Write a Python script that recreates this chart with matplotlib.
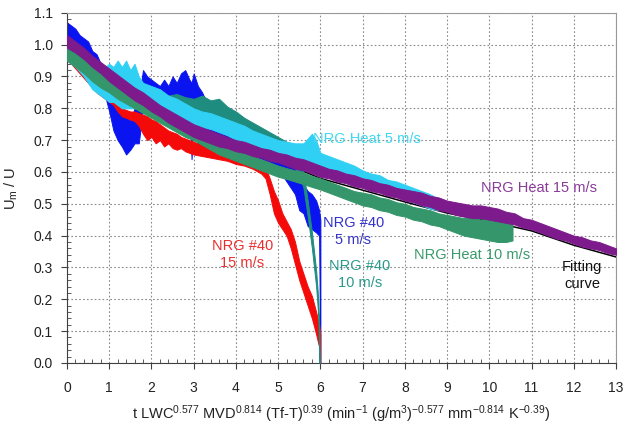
import numpy as np
import matplotlib
matplotlib.use("Agg")
import matplotlib.pyplot as plt
from matplotlib.ticker import MultipleLocator, FormatStrFormatter

plt.rcParams['font.family'] = ['Liberation Sans', 'DejaVu Sans']
plt.rcParams['mathtext.fontset'] = 'custom'
plt.rcParams['mathtext.rm'] = 'Liberation Sans'
plt.rcParams['mathtext.it'] = 'Liberation Sans:italic'

# NRG #40 5 m/s (blue) - band: x, lower edge, upper edge
blue_x = [0.0, 0.1, 0.2, 0.3, 0.4, 0.5, 0.6, 0.7, 0.8, 0.9, 1.0, 1.1, 1.2, 1.3, 1.4, 1.5,
          1.6, 1.7, 1.8, 1.9, 2.0, 2.1, 2.2, 2.3, 2.4, 2.5, 2.6, 2.7, 2.8, 2.9, 2.95, 3.0,
          3.1, 3.2, 3.3, 3.4, 3.5, 3.6, 3.8, 4.0, 4.2, 4.4, 4.6, 4.8, 5.0, 5.2, 5.4, 5.5,
          5.6, 5.7, 5.8, 5.9, 5.97, 6.0]
blue_lo = [0.99, 0.98, 0.97, 0.96, 0.95, 0.95, 0.92, 0.91, 0.87, 0.84, 0.79, 0.73, 0.70, 0.68, 0.655, 0.67,
           0.69, 0.69, 0.80, 0.83, 0.83, 0.82, 0.83, 0.82, 0.83, 0.82, 0.83, 0.82, 0.81, 0.82, 0.64, 0.80,
           0.67, 0.68, 0.71, 0.69, 0.68, 0.675, 0.665, 0.655, 0.65, 0.645, 0.64, 0.63, 0.61, 0.57, 0.53, 0.48,
           0.47, 0.43, 0.42, 0.41, 0.40, 0.0]
blue_hi = [1.07, 1.06, 1.05, 1.03, 1.02, 1.01, 0.98, 0.97, 0.94, 0.92, 0.88, 0.84, 0.80, 0.79, 0.78, 0.76,
           0.80, 0.83, 0.92, 0.90, 0.89, 0.88, 0.87, 0.89, 0.87, 0.90, 0.88, 0.91, 0.92, 0.89, 0.88, 0.91,
           0.87, 0.85, 0.82, 0.79, 0.76, 0.74, 0.72, 0.70, 0.69, 0.685, 0.675, 0.67, 0.66, 0.64, 0.61, 0.58,
           0.56, 0.54, 0.53, 0.51, 0.48, 0.45]

# NRG #40 15 m/s (red)
red_x = [0.0, 0.1, 0.2, 0.3, 0.4, 0.5, 0.6, 0.7, 0.8, 0.9, 1.0, 1.1, 1.2, 1.3, 1.4, 1.5,
         1.6, 1.7, 1.8, 1.9, 2.0, 2.1, 2.2, 2.3, 2.4, 2.5, 2.6, 2.7, 2.8, 2.9, 3.0, 3.2,
         3.4, 3.6, 3.8, 4.0, 4.2, 4.4, 4.6, 4.7, 4.8, 4.9, 5.0, 5.1, 5.2, 5.3, 5.4, 5.5,
         5.6, 5.7, 5.8, 5.9, 5.97, 6.0]
red_lo = [0.95, 0.94, 0.925, 0.91, 0.895, 0.88, 0.865, 0.85, 0.84, 0.83, 0.82, 0.81, 0.79, 0.775, 0.77, 0.765,
          0.76, 0.745, 0.72, 0.70, 0.71, 0.69, 0.70, 0.68, 0.69, 0.675, 0.67, 0.675, 0.665, 0.66, 0.655, 0.65,
          0.645, 0.64, 0.635, 0.625, 0.62, 0.61, 0.595, 0.58, 0.53, 0.47, 0.44, 0.42, 0.40, 0.36, 0.31, 0.26,
          0.22, 0.18, 0.14, 0.09, 0.05, 0.0]
red_hi = [0.98, 0.965, 0.955, 0.94, 0.93, 0.915, 0.90, 0.89, 0.88, 0.87, 0.86, 0.85, 0.83, 0.80, 0.795, 0.79,
          0.79, 0.785, 0.78, 0.775, 0.765, 0.76, 0.75, 0.74, 0.73, 0.725, 0.72, 0.71, 0.705, 0.70, 0.695, 0.685,
          0.675, 0.67, 0.665, 0.655, 0.645, 0.64, 0.63, 0.615, 0.58, 0.54, 0.51, 0.47, 0.445, 0.42, 0.38, 0.32,
          0.28, 0.24, 0.21, 0.16, 0.12, 0.09]

# NRG #40 10 m/s (teal)
teal_x = [0.0, 0.2, 0.4, 0.6, 0.8, 1.0, 1.2, 1.4, 1.6, 1.8, 2.0, 2.2, 2.4, 2.6, 2.8, 3.0,
          3.2, 3.4, 3.6, 3.8, 4.0, 4.2, 4.4, 4.6, 4.8, 5.0, 5.2, 5.4, 5.5, 5.6, 5.7, 5.8,
          5.9, 5.95, 5.98]
teal_lo = [0.96, 0.94, 0.92, 0.90, 0.88, 0.86, 0.845, 0.83, 0.82, 0.81, 0.80, 0.80, 0.795, 0.79, 0.785, 0.78,
           0.775, 0.77, 0.755, 0.745, 0.735, 0.725, 0.71, 0.70, 0.685, 0.675, 0.655, 0.62, 0.59, 0.55, 0.46, 0.36,
           0.24, 0.15, 0.0]
teal_hi = [1.00, 0.98, 0.96, 0.94, 0.92, 0.90, 0.885, 0.87, 0.86, 0.85, 0.84, 0.845, 0.84, 0.845, 0.835, 0.83,
           0.84, 0.825, 0.83, 0.805, 0.79, 0.77, 0.755, 0.74, 0.725, 0.71, 0.695, 0.67, 0.64, 0.60, 0.51, 0.41,
           0.29, 0.20, 0.08]

# NRG Heat 5 m/s (cyan)
cyan_x = [0.0, 0.2, 0.4, 0.6, 0.8, 0.9, 1.0, 1.1, 1.2, 1.3, 1.4, 1.5, 1.6, 1.7, 1.8, 2.0,
          2.2, 2.4, 2.6, 2.8, 3.0, 3.2, 3.4, 3.6, 3.8, 4.0, 4.2, 4.4, 4.6, 4.8, 5.0, 5.2,
          5.4, 5.6, 5.8, 5.9, 6.0, 6.2, 6.4, 6.6, 6.8, 7.0, 7.2, 7.4, 7.6, 7.8, 8.0, 8.2,
          8.4, 8.6, 8.8]
cyan_lo = [0.95, 0.93, 0.90, 0.86, 0.84, 0.83, 0.82, 0.82, 0.81, 0.80, 0.80, 0.80, 0.80, 0.80, 0.80, 0.80,
           0.785, 0.775, 0.765, 0.755, 0.745, 0.74, 0.735, 0.725, 0.715, 0.70, 0.695, 0.685, 0.675, 0.67, 0.66, 0.655,
           0.645, 0.64, 0.63, 0.625, 0.61, 0.60, 0.59, 0.58, 0.57, 0.56, 0.55, 0.545, 0.535, 0.525, 0.515, 0.505,
           0.495, 0.485, 0.48]
cyan_hi = [0.99, 0.965, 0.94, 0.91, 0.90, 0.93, 0.94, 0.93, 0.95, 0.93, 0.95, 0.92, 0.94, 0.90, 0.88, 0.87,
           0.86, 0.84, 0.83, 0.815, 0.80, 0.79, 0.785, 0.775, 0.765, 0.755, 0.745, 0.73, 0.72, 0.71, 0.70, 0.695,
           0.69, 0.69, 0.72, 0.70, 0.66, 0.65, 0.64, 0.63, 0.62, 0.605, 0.595, 0.59, 0.575, 0.57, 0.56, 0.55,
           0.54, 0.53, 0.515]

# NRG Heat 10 m/s (green)
green_x = [0.0, 0.2, 0.4, 0.6, 0.8, 1.0, 1.2, 1.4, 1.6, 1.8, 2.0, 2.2, 2.4, 2.6, 2.8, 3.0,
           3.2, 3.4, 3.6, 3.8, 4.0, 4.2, 4.4, 4.6, 4.8, 5.0, 5.2, 5.4, 5.6, 5.8, 6.0, 6.2,
           6.4, 6.6, 6.8, 7.0, 7.2, 7.4, 7.6, 7.8, 8.0, 8.2, 8.4, 8.6, 8.8, 9.0, 9.2, 9.4,
           9.6, 9.8, 10.0, 10.2, 10.4, 10.55]
green_lo = [0.95, 0.93, 0.91, 0.885, 0.865, 0.85, 0.83, 0.815, 0.80, 0.785, 0.77, 0.755, 0.74, 0.725, 0.71, 0.70,
            0.685, 0.67, 0.655, 0.645, 0.635, 0.625, 0.615, 0.605, 0.595, 0.585, 0.578, 0.57, 0.562, 0.553, 0.545, 0.535,
            0.525, 0.515, 0.505, 0.495, 0.49, 0.48, 0.475, 0.465, 0.46, 0.45, 0.445, 0.435, 0.43, 0.42, 0.41, 0.40,
            0.395, 0.39, 0.385, 0.38, 0.38, 0.385]
green_hi = [0.99, 0.97, 0.95, 0.93, 0.91, 0.89, 0.87, 0.855, 0.84, 0.825, 0.81, 0.795, 0.78, 0.765, 0.75, 0.735,
            0.72, 0.705, 0.69, 0.68, 0.67, 0.66, 0.65, 0.64, 0.63, 0.62, 0.612, 0.605, 0.598, 0.588, 0.58, 0.57,
            0.56, 0.55, 0.54, 0.535, 0.53, 0.52, 0.515, 0.505, 0.50, 0.49, 0.485, 0.48, 0.47, 0.465, 0.46, 0.455,
            0.46, 0.45, 0.455, 0.45, 0.445, 0.44]

# NRG Heat 15 m/s (purple)
purple_x = [0.0, 0.2, 0.4, 0.6, 0.8, 1.0, 1.2, 1.4, 1.6, 1.8, 2.0, 2.2, 2.4, 2.6, 2.8, 3.0,
            3.2, 3.4, 3.6, 3.8, 4.0, 4.2, 4.4, 4.6, 4.8, 5.0, 5.2, 5.4, 5.6, 5.8, 6.0, 6.2,
            6.4, 6.6, 6.8, 7.0, 7.2, 7.4, 7.6, 7.8, 8.0, 8.2, 8.4, 8.6, 8.8, 9.0, 9.2, 9.4,
            9.6, 9.8, 10.0, 10.2, 10.4, 10.6, 10.8, 11.0, 11.2, 11.4, 11.6, 11.8, 12.0, 12.2, 12.4, 12.6,
            12.8, 13.0]
purple_lo = [0.99, 0.975, 0.955, 0.93, 0.91, 0.885, 0.865, 0.845, 0.825, 0.81, 0.79, 0.775, 0.755, 0.74, 0.725, 0.71,
             0.70, 0.69, 0.68, 0.675, 0.665, 0.66, 0.65, 0.645, 0.635, 0.63, 0.62, 0.61, 0.605, 0.595, 0.585, 0.58,
             0.57, 0.565, 0.555, 0.55, 0.54, 0.535, 0.525, 0.52, 0.51, 0.505, 0.495, 0.49, 0.48, 0.475, 0.465, 0.46,
             0.455, 0.455, 0.45, 0.445, 0.44, 0.435, 0.425, 0.42, 0.41, 0.40, 0.39, 0.385, 0.375, 0.365, 0.36, 0.355,
             0.345, 0.34]
purple_hi = [1.03, 1.01, 0.99, 0.965, 0.945, 0.925, 0.905, 0.885, 0.865, 0.85, 0.83, 0.81, 0.795, 0.78, 0.765, 0.75,
             0.74, 0.73, 0.72, 0.71, 0.70, 0.695, 0.685, 0.675, 0.67, 0.66, 0.655, 0.645, 0.64, 0.63, 0.62, 0.61,
             0.605, 0.595, 0.59, 0.58, 0.575, 0.565, 0.56, 0.55, 0.545, 0.54, 0.535, 0.525, 0.52, 0.51, 0.505, 0.50,
             0.495, 0.495, 0.49, 0.485, 0.475, 0.47, 0.455, 0.45, 0.44, 0.43, 0.42, 0.41, 0.40, 0.395, 0.385, 0.38,
             0.37, 0.36]

# fitting curve (black)
fit_x = [0, 1, 2, 3, 4, 5, 6, 7, 8, 9, 10, 11, 12, 13]
fit_y = [1.00, 0.91, 0.83, 0.76, 0.69, 0.635, 0.58, 0.543, 0.506, 0.471, 0.445, 0.415, 0.370, 0.333]

c_blue = '#0a14f0'
c_red = '#f50a0a'
c_teal = '#1f8c80'
c_cyan = '#30d0f5'
c_green = '#34966a'
c_purple = '#7d1a8c'

fig = plt.figure(figsize=(6.26, 4.28), dpi=100)
ax = fig.add_axes([0.107, 0.152, 0.877, 0.818])

def band(x, lo, hi, col, z):
    ax.fill_between(x, lo, hi, color=col, lw=0.7, edgecolor=col, zorder=z)

ax.plot(fit_x, fit_y, color='black', lw=1.1, zorder=1.5)
band(blue_x, blue_lo, blue_hi, c_blue, 2)
band(red_x, red_lo, red_hi, c_red, 3)
band(teal_x, teal_lo, teal_hi, c_teal, 4)
band(cyan_x, cyan_lo, cyan_hi, c_cyan, 5)
band(green_x, green_lo, green_hi, c_green, 6)
band(purple_x, purple_lo, purple_hi, c_purple, 7)

ax.set_xlim(0, 13)
ax.set_ylim(0, 1.1)
ax.xaxis.set_major_locator(MultipleLocator(1))
ax.xaxis.set_minor_locator(MultipleLocator(0.2))
ax.yaxis.set_major_locator(MultipleLocator(0.1))
ax.yaxis.set_minor_locator(MultipleLocator(0.02))
ax.yaxis.set_major_formatter(FormatStrFormatter('%.1f'))
ax.grid(True, which='major', color='#8a8a8a', ls=(0, (1.5, 2.0)), lw=0.8, zorder=1)
ax.set_axisbelow(True)

ax.tick_params(which='major', direction='out', length=4, color='#404040', labelsize=10,
               labelcolor='#222222')
ax.tick_params(which='minor', direction='in', length=3, color='#404040')
ax.tick_params(axis='x', which='major', pad=9)
ax.tick_params(axis='y', which='major', pad=6)
for s in ['left', 'bottom']:
    ax.spines[s].set_color('#404040')
for s in ['top', 'right']:
    ax.spines[s].set_color('#999999')

ax.set_xlabel('t LWC$^{0.577}$ MVD$^{0.814}$ (Tf-T)$^{0.39}$ (min$^{-1}$ (g/m$^{3}$)$^{-0.577}$ '
              'mm$^{-0.814}$ K$^{-0.39}$)', fontsize=10.5, labelpad=6, color='#222222')
ax.set_ylabel('U$_{\\mathrm{m}}$ / U', fontsize=10.5, labelpad=10, color='#222222')

fs = 10.5
ax.text(7.11, 0.704, 'NRG Heat 5 m/s', color='#40d8f0', fontsize=fs, ha='center', va='center', zorder=9)
ax.text(11.18, 0.55, 'NRG Heat 15 m/s', color='#8a3a9a', fontsize=fs, ha='center', va='center', zorder=9)
ax.text(6.78, 0.412, 'NRG #40\n5 m/s', color='#3333cc', fontsize=fs, ha='center', va='center',
        linespacing=1.25, zorder=9)
ax.text(6.94, 0.277, 'NRG #40\n10 m/s', color='#2a9a8a', fontsize=fs, ha='center', va='center',
        linespacing=1.25, zorder=9)
ax.text(9.6, 0.34, 'NRG Heat 10 m/s', color='#3a9a6a', fontsize=fs, ha='center', va='center', zorder=9)
ax.text(12.2, 0.275, 'Fitting\ncurve', color='#111111', fontsize=fs, ha='center', va='center',
        linespacing=1.25, zorder=9)
ax.text(4.15, 0.341, 'NRG #40\n15 m/s', color='#e83030', fontsize=fs, ha='center', va='center',
        linespacing=1.25, zorder=9)

fig.savefig('out.png', dpi=100)
